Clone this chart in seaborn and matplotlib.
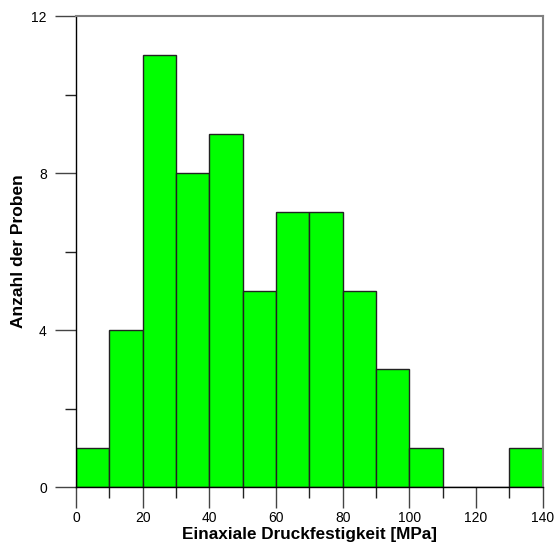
import matplotlib
matplotlib.use("Agg")
import matplotlib.pyplot as plt
import seaborn as sns
from matplotlib.ticker import MultipleLocator

# Histogram counts per 10 MPa class
bin_edges = [0, 10, 20, 30, 40, 50, 60, 70, 80, 90, 100, 110, 120, 130, 140]
counts = [1, 4, 11, 8, 9, 5, 7, 7, 5, 3, 1, 0, 0, 1]
centers = [(a + b) / 2 for a, b in zip(bin_edges[:-1], bin_edges[1:])]

sns.set_style("ticks")
plt.rcParams["font.family"] = ["Liberation Sans", "DejaVu Sans"]

fig = plt.figure(figsize=(5.55, 5.45), dpi=100)
ax = fig.add_axes([0.137, 0.1064, 0.841, 0.8642])

sns.histplot(x=centers, weights=counts, bins=bin_edges, color="#00ff00",
             alpha=1, edgecolor="#222222", linewidth=1, ax=ax)

ax.set_xlim(0, 140)
ax.set_ylim(0, 12)
ax.xaxis.set_major_locator(MultipleLocator(20))
ax.xaxis.set_minor_locator(MultipleLocator(10))
ax.yaxis.set_major_locator(MultipleLocator(4))
ax.yaxis.set_minor_locator(MultipleLocator(2))
ax.tick_params(which="major", length=15, width=1, color="#444444",
               labelsize=10, labelcolor="black")
ax.tick_params(axis="x", which="major", pad=2.5)
ax.tick_params(axis="y", which="major", pad=6)
ax.tick_params(which="minor", length=8, width=1, color="#222222")

for side in ["top", "right"]:
    ax.spines[side].set_visible(True)
    ax.spines[side].set_color("#808080")
    ax.spines[side].set_linewidth(1.5)
for side in ["left", "bottom"]:
    ax.spines[side].set_color("black")
    ax.spines[side].set_linewidth(1)

ax.set_xlabel("Einaxiale Druckfestigkeit [MPa]", fontsize=12.3, fontweight="bold",
              labelpad=1.5, color="black")
ax.set_ylabel("Anzahl der Proben", fontsize=12.5, fontweight="bold",
              labelpad=4, color="black")

fig.savefig("out.png", dpi=100)
